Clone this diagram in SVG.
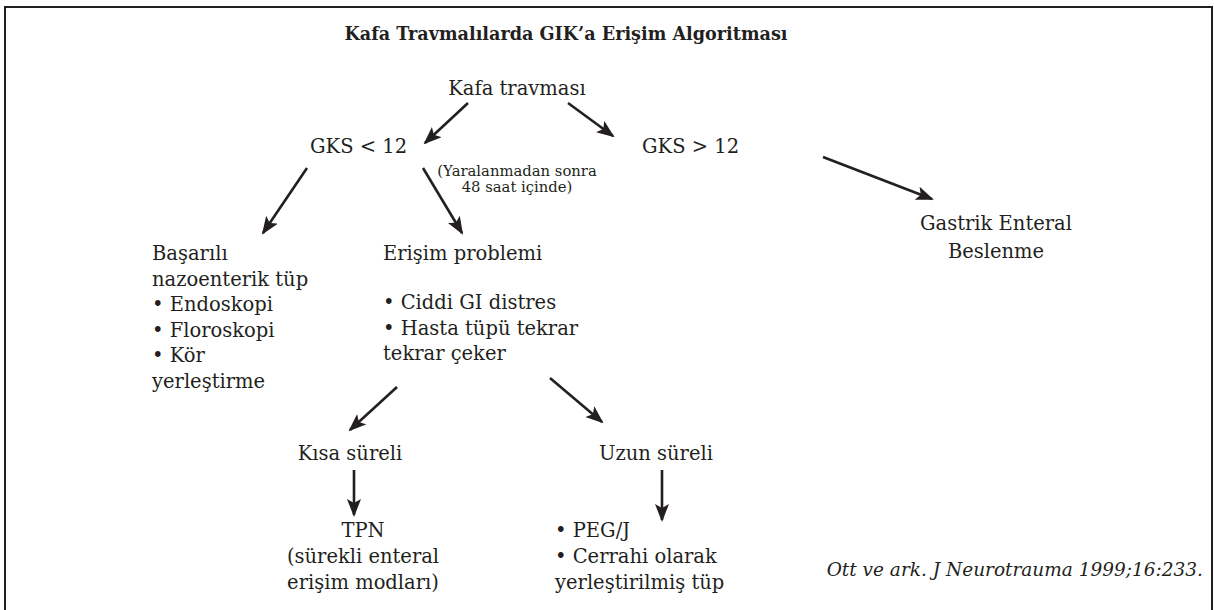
<svg xmlns="http://www.w3.org/2000/svg" width="1214" height="610" viewBox="0 0 1214 610">
<defs>
<style>
text{font-family:"DejaVu Serif","Liberation Serif",serif;fill:#231f20}
.t{font-size:19.5px}
.s{font-size:14.8px}
.h{font-size:17.6px;font-weight:bold}
.c{text-anchor:middle}
.i{font-style:italic;font-size:18.5px;text-anchor:end}
.a{stroke:#231f20;stroke-width:2.6;fill:none;marker-end:url(#ah)}
</style>
<marker id="ah" markerUnits="userSpaceOnUse" markerWidth="18" markerHeight="14" viewBox="0 0 18 14" refX="16" refY="7" orient="auto">
<path d="M0,0 L18,7 L0,14 L4,7 z" fill="#231f20"/>
</marker>
</defs>
<rect x="5" y="7" width="1207" height="620" fill="#fff" stroke="#231f20" stroke-width="2"/>
<g id="title"><text class="h c" x="566" y="40">Kafa Travmalılarda GIK’a Erişim Algoritması</text></g>
<g id="connectors">
<line class="a" x1="468" y1="103" x2="425" y2="143"/>
<line class="a" x1="568" y1="103" x2="613" y2="136"/>
<line class="a" x1="823" y1="157" x2="932" y2="199"/>
<line class="a" x1="307" y1="168" x2="263" y2="233"/>
<line class="a" x1="423" y1="168" x2="462" y2="233"/>
<line class="a" x1="397" y1="387" x2="350" y2="430"/>
<line class="a" x1="550" y1="378" x2="602" y2="422"/>
<line class="a" x1="354" y1="470" x2="354" y2="515"/>
<line class="a" x1="662" y1="470" x2="662" y2="520"/>
</g>
<g id="n-kafa"><text class="t c" x="517" y="95">Kafa travması</text></g>
<g id="n-gks-low"><text class="t" x="310" y="153">GKS &lt; 12</text></g>
<g id="n-gks-high"><text class="t" x="642" y="153">GKS &gt; 12</text></g>
<g id="n-note"><text class="s c" x="517" y="176">(Yaralanmadan sonra</text><text class="s c" x="517" y="192">48 saat içinde)</text></g>
<g id="n-gastrik"><text class="t c" x="996" y="230">Gastrik Enteral</text><text class="t c" x="996" y="258">Beslenme</text></g>
<g id="n-basarili">
<text class="t" x="152" y="260">Başarılı</text>
<text class="t" x="152" y="286">nazoenterik tüp</text>
<text class="t" x="152" y="311">• Endoskopi</text>
<text class="t" x="152" y="337">• Floroskopi</text>
<text class="t" x="152" y="362">• Kör</text>
<text class="t" x="152" y="388">yerleştirme</text>
</g>
<g id="n-erisim">
<text class="t" x="383" y="260">Erişim problemi</text>
<text class="t" x="383" y="309">• Ciddi GI distres</text>
<text class="t" x="383" y="335">• Hasta tüpü tekrar</text>
<text class="t" x="383" y="360">tekrar çeker</text>
</g>
<g id="n-kisa"><text class="t c" x="350" y="460">Kısa süreli</text></g>
<g id="n-uzun"><text class="t c" x="656" y="460">Uzun süreli</text></g>
<g id="n-tpn">
<text class="t c" x="363" y="537">TPN</text>
<text class="t c" x="363" y="563">(sürekli enteral</text>
<text class="t c" x="363" y="589">erişim modları)</text>
</g>
<g id="n-peg">
<text class="t" x="555" y="537">• PEG/J</text>
<text class="t" x="555" y="563">• Cerrahi olarak</text>
<text class="t" x="555" y="589">yerleştirilmiş tüp</text>
</g>
<g id="citation"><text class="i" x="1203" y="576">Ott ve ark. J Neurotrauma 1999;16:233.</text></g>
</svg>
